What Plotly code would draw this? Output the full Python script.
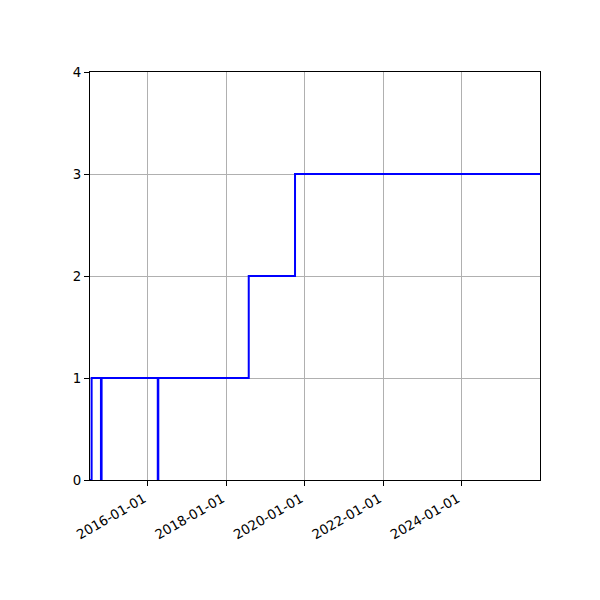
import plotly.graph_objects as go

# step data (value holds until the next date)
dates = ['2014-07-12', '2014-07-27', '2014-10-22', '2014-10-28', '2016-04-03',
         '2016-04-08', '2018-07-29', '2019-10-03', '2025-12-31']
counts = [0, 1, 0, 1, 0, 1, 2, 3, 3]

x_range = ['2014-07-12', '2025-12-31']
tick_dates = ['2016-01-01', '2018-01-01', '2020-01-01', '2022-01-01', '2024-01-01']
tick_labels = ['2016-01-01', '2018-01-01', '2020-01-01', '2022-01-01', '2024-01-01']
y_ticks = [0, 1, 2, 3, 4]

fig = go.Figure()
fig.add_trace(go.Scatter(x=dates, y=counts, mode='lines', line_shape='hv',
                         line=dict(color='#0000ff', width=2), showlegend=False))

axis_style = dict(showline=True, linecolor='black', linewidth=1, mirror=True,
                  ticks='outside', ticklen=5, tickcolor='black',
                  showgrid=True, gridcolor='#b0b0b0', gridwidth=1,
                  zeroline=False)

# page body has an 8px margin, so the margins are shifted to compensate
fig.update_layout(width=600, height=600, plot_bgcolor='white', paper_bgcolor='white',
                  margin=dict(l=82, r=68, t=64, b=128),
                  font=dict(family='DejaVu Sans', size=13.33, color='black'))
fig.update_xaxes(range=x_range, tickvals=tick_dates, ticktext=tick_labels,
                 tickangle=-30, ticklabelshift=-4, **axis_style)
fig.update_yaxes(range=[0, 4], tickvals=y_ticks, **axis_style)

fig.write_html("out.html")
